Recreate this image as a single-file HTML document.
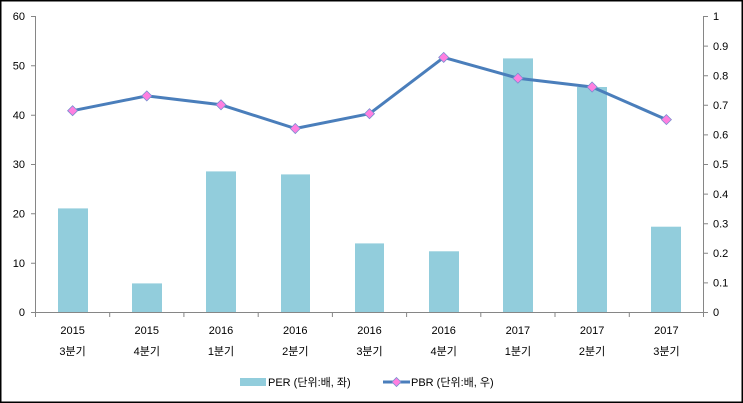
<!DOCTYPE html>
<html><head><meta charset="utf-8"><style>
html,body{margin:0;padding:0;background:#fff}
svg{display:block}
text{font-family:"Liberation Sans","Noto Sans CJK KR",sans-serif;font-size:11px;fill:#000}
</style></head><body>
<svg width="743" height="403" viewBox="0 0 743 403" xmlns="http://www.w3.org/2000/svg">
<rect x="0.75" y="0.75" width="741.5" height="401.5" fill="#fff" stroke="#000" stroke-width="1.5"/>
<g fill="#92CDDC">
<rect x="58" y="208.4" width="30" height="103.6"/>
<rect x="132" y="283.4" width="30" height="28.6"/>
<rect x="206" y="171.4" width="30" height="140.6"/>
<rect x="281" y="174.4" width="29" height="137.6"/>
<rect x="355" y="243.4" width="29" height="68.6"/>
<rect x="429" y="251.3" width="30" height="60.7"/>
<rect x="503" y="58.4" width="30" height="253.6"/>
<rect x="577" y="87" width="30" height="225"/>
<rect x="651" y="226.7" width="30" height="85.3"/>
</g>
<g stroke="#868686" stroke-width="1" fill="none">
<path d="M35.5 16V312.5M703.5 16V312.5M35.5 312.5H703.5"/>
<path d="M31 16.5H35.5M31 65.8H35.5M31 115.2H35.5M31 164.5H35.5M31 213.8H35.5M31 263.2H35.5M31 312.5H35.5"/>
<path d="M703.5 16.5H708M703.5 46.1H708M703.5 75.7H708M703.5 105.3H708M703.5 134.9H708M703.5 164.5H708M703.5 194.1H708M703.5 223.7H708M703.5 253.3H708M703.5 282.9H708M703.5 312.5H708"/>
<path d="M35.5 312.5V317M109.7 312.5V317M183.9 312.5V317M258.2 312.5V317M332.4 312.5V317M406.6 312.5V317M480.8 312.5V317M555 312.5V317M629.3 312.5V317M703.5 312.5V317"/>
</g>
<g text-anchor="end">
<text x="25" y="20">60</text><text x="25" y="69.5">50</text><text x="25" y="119">40</text><text x="25" y="168">30</text><text x="25" y="217.5">20</text><text x="25" y="267">10</text><text x="25" y="316">0</text>
</g>
<g>
<text x="713" y="20">1</text><text x="713" y="50">0.9</text><text x="713" y="79.5">0.8</text><text x="713" y="109">0.7</text><text x="713" y="138.5">0.6</text><text x="713" y="168">0.5</text><text x="713" y="198">0.4</text><text x="713" y="227.5">0.3</text><text x="713" y="257">0.2</text><text x="713" y="286.5">0.1</text><text x="713" y="316">0</text>
</g>
<g text-anchor="middle">
<text x="72.6" y="334">2015</text><text x="72.6" y="355">3분기</text>
<text x="146.8" y="334">2015</text><text x="146.8" y="355">4분기</text>
<text x="221" y="334">2016</text><text x="221" y="355">1분기</text>
<text x="295.3" y="334">2016</text><text x="295.3" y="355">2분기</text>
<text x="369.5" y="334">2016</text><text x="369.5" y="355">3분기</text>
<text x="443.7" y="334">2016</text><text x="443.7" y="355">4분기</text>
<text x="517.9" y="334">2017</text><text x="517.9" y="355">1분기</text>
<text x="592.1" y="334">2017</text><text x="592.1" y="355">2분기</text>
<text x="666.4" y="334">2017</text><text x="666.4" y="355">3분기</text>
</g>
<polyline points="72.6,110.7 146.8,95.9 221,104.8 295.3,128.5 369.5,113.7 443.7,57.4 517.9,78.2 592.1,87 666.4,119.6" fill="none" stroke="#4A7EBB" stroke-width="3" stroke-linejoin="round"/>
<g fill="#FF7FE0" stroke="#7A8FD0" stroke-width="0.8">
<path d="M72.6 105.7l5 5-5 5-5-5z"/>
<path d="M146.8 90.9l5 5-5 5-5-5z"/>
<path d="M221 99.8l5 5-5 5-5-5z"/>
<path d="M295.3 123.5l5 5-5 5-5-5z"/>
<path d="M369.5 108.7l5 5-5 5-5-5z"/>
<path d="M443.7 52.4l5 5-5 5-5-5z"/>
<path d="M517.9 73.2l5 5-5 5-5-5z"/>
<path d="M592.1 82l5 5-5 5-5-5z"/>
<path d="M666.4 114.6l5 5-5 5-5-5z"/>
</g>
<rect x="240" y="378" width="26" height="8" fill="#92CDDC"/>
<text x="268" y="386">PER (단위:배, 좌)</text>
<line x1="383" y1="382" x2="410" y2="382" stroke="#4A7EBB" stroke-width="3"/>
<path d="M396.5 377.5l4.5 4.5-4.5 4.5-4.5-4.5z" fill="#FF7FE0" stroke="#7A8FD0" stroke-width="0.8"/>
<text x="411" y="386">PBR (단위:배, 우)</text>
</svg>
</body></html>
